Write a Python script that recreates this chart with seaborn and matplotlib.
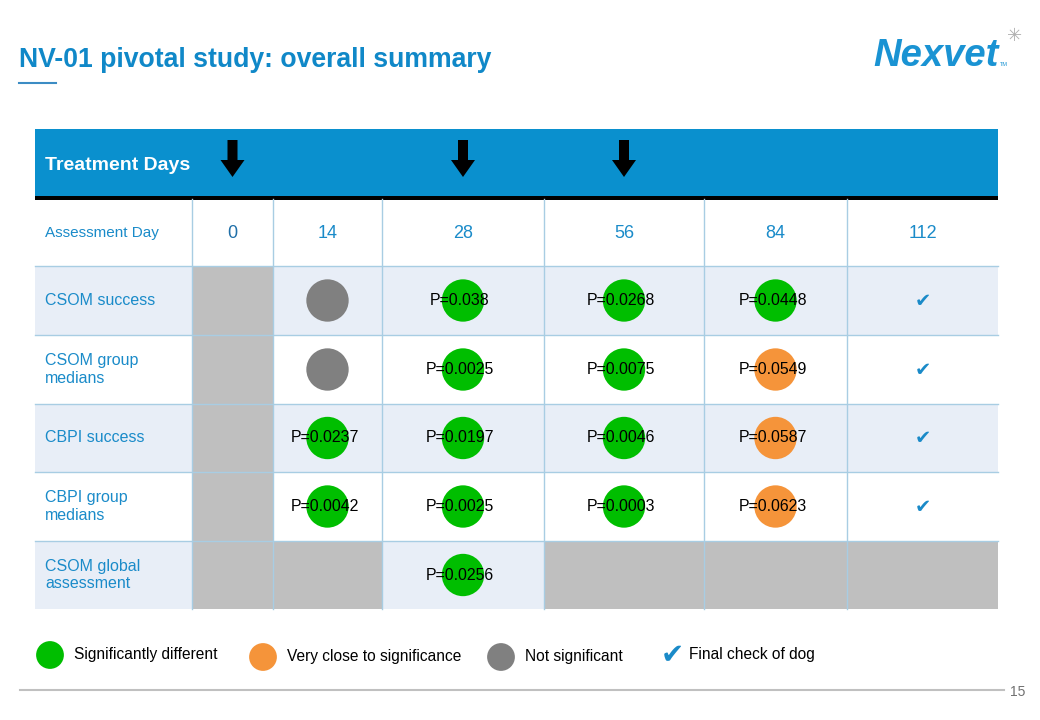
import numpy as np
import pandas as pd
import matplotlib.pyplot as plt
from matplotlib.patches import Rectangle, FancyArrow
import seaborn as sns

# ---- data ----
days = [0, 14, 28, 56, 84, 112]
treatment_days = [0, 28, 56]
measures = ['CSOM success', 'CSOM group\nmedians', 'CBPI success',
            'CBPI group\nmedians', 'CSOM global\nassessment']

p_day14 = ['', '', 'P=0.0237', 'P=0.0042', '']
p_day28 = ['P=0.038', 'P=0.0025', 'P=0.0197', 'P=0.0025', 'P=0.0256']
p_day56 = ['P=0.0268', 'P=0.0075', 'P=0.0046', 'P=0.0003', '']
p_day84 = ['P=0.0448', 'P=0.0549', 'P=0.0587', 'P=0.0623', '']

status_day14 = ['ns', 'ns', 'sig', 'sig', None]
status_day28 = ['sig', 'sig', 'sig', 'sig', 'sig']
status_day56 = ['sig', 'sig', 'sig', 'sig', None]
status_day84 = ['sig', 'close', 'close', 'close', None]

final_check = [True, True, True, True, False]
not_assessed = [(m, 0) for m in range(5)] + [(4, 14), (4, 56), (4, 84), (4, 112)]

legend_labels = {'sig': 'Significantly different', 'close': 'Very close to significance',
                 'ns': 'Not significant'}
palette = {'sig': '#00BE00', 'close': '#F5943A', 'ns': '#808080'}

# ---- layout (pixels) ----
col_edges = [35, 192, 273, 382, 544, 704, 847, 998]
row_edges = [199, 266, 335, 404, 472, 541, 609]
blue = '#0A90CE'
text_blue = '#1A8BC9'
grid_c = '#A8CDE3'

col_c = {d: (col_edges[i + 1] + col_edges[i + 2]) / 2 for i, d in enumerate(days)}
row_c = [(row_edges[i + 1] + row_edges[i + 2]) / 2 for i in range(len(measures))]

cells = []
for d, ps, st in [(14, p_day14, status_day14), (28, p_day28, status_day28),
                  (56, p_day56, status_day56), (84, p_day84, status_day84)]:
    for i, (p, s) in enumerate(zip(ps, st)):
        if s is not None:
            cells.append({'day': d, 'row': i, 'p': p, 'status': s,
                          'x': col_c[d], 'y': row_c[i]})
df = pd.DataFrame(cells)

plt.rcParams['font.family'] = ['Liberation Sans', 'DejaVu Sans']
fig = plt.figure(figsize=(10.4, 7.2), dpi=100)
ax = fig.add_axes([0, 0, 1, 1])
ax.set_xlim(0, 1040)
ax.set_ylim(720, 0)
ax.axis('off')

# title and logo
ax.text(19, 67, 'NV-01 pivotal study: overall summary', fontsize=19.2,
        fontweight='bold', color='#1088C8', va='baseline')
ax.plot([19, 56], [83, 83], color='#3C8CC4', lw=1.5)
ax.text(873, 66, 'Nexvet', fontsize=27.5, fontweight='bold', style='italic',
        color='#1A93D3', va='baseline')
ax.text(1000, 66, 'TM', fontsize=4, color='#1A93D3', va='baseline')
ax.text(1015, 36, '✳', fontsize=13, color='#B0B0B0', ha='center', va='center',
        family='DejaVu Sans')

# header band
ax.add_patch(Rectangle((35, 129), 963, 67, color=blue, lw=0))
ax.add_patch(Rectangle((35, 196), 963, 3.5, color='black', lw=0))
ax.text(45, 165, 'Treatment Days', fontsize=14, fontweight='bold', color='white',
        va='center')
for d in treatment_days:
    ax.add_patch(FancyArrow(col_c[d], 140, 0, 37, width=10, head_width=24,
                            head_length=17, length_includes_head=True,
                            color='black', lw=0))

# row backgrounds
for i in range(len(measures)):
    fc = '#E8EEF7' if i % 2 == 0 else 'white'
    ax.add_patch(Rectangle((35, row_edges[i + 1]), 963,
                           row_edges[i + 2] - row_edges[i + 1], color=fc, lw=0))
for m, d in not_assessed:
    i = days.index(d)
    ax.add_patch(Rectangle((col_edges[i + 1], row_edges[m + 1]),
                           col_edges[i + 2] - col_edges[i + 1],
                           row_edges[m + 2] - row_edges[m + 1],
                           color='#BFBFBF', lw=0))

# grid lines
for y in row_edges[1:-1]:
    ax.plot([35, 998], [y, y], color=grid_c, lw=1)
for x in col_edges[1:-1]:
    ax.plot([x, x], [199, 609], color=grid_c, lw=1)

# assessment day row
ax.text(45, 233, 'Assessment Day', fontsize=11, color=text_blue, va='center')
for d in days:
    ax.text(col_c[d], 233, str(d), fontsize=13, ha='center', va='center',
            color='#1F6FA8' if d == 0 else text_blue)
for i, m in enumerate(measures):
    ax.text(45, row_c[i], m, fontsize=11.5, color=text_blue, va='center',
            linespacing=1.25)

# result circles
sns.scatterplot(data=df, x='x', y='y', hue='status', palette=palette, s=930,
                linewidth=0, legend=False, ax=ax, zorder=3)
for _, r in df.iterrows():
    ax.text(r['x'] - 3, r['y'], r['p'], fontsize=11.4, ha='center', va='center',
            color='black', zorder=4)
for i, ok in enumerate(final_check):
    if ok:
        ax.text(col_c[112], row_c[i] + 1, '✔', fontsize=14, color='#1A8AC8',
                ha='center', va='center', family='DejaVu Sans')

# legend
leg = pd.DataFrame({'status': ['sig', 'close', 'ns'], 'x': [50, 263, 501],
                    'y': [655, 657, 657]})
sns.scatterplot(data=leg, x='x', y='y', hue='status', palette=palette, s=400,
                linewidth=0, legend=False, ax=ax)
for _, r in leg.iterrows():
    ax.text(r['x'] + 24, r['y'], legend_labels[r['status']], fontsize=11.2,
            va='center', color='black')
ax.text(672, 655, '✔', fontsize=20, color='#1A8AC8', ha='center', va='center',
        family='DejaVu Sans')
ax.text(689, 655, 'Final check of dog', fontsize=11.2, va='center', color='black')

# footer
ax.plot([20, 1004], [690, 690], color='#C0C0C0', lw=1.5)
ax.text(1010, 692, '15', fontsize=10, color='#707070', va='center')

ax.set_xlim(0, 1040)
ax.set_ylim(720, 0)
fig.savefig('out.png', dpi=100)
